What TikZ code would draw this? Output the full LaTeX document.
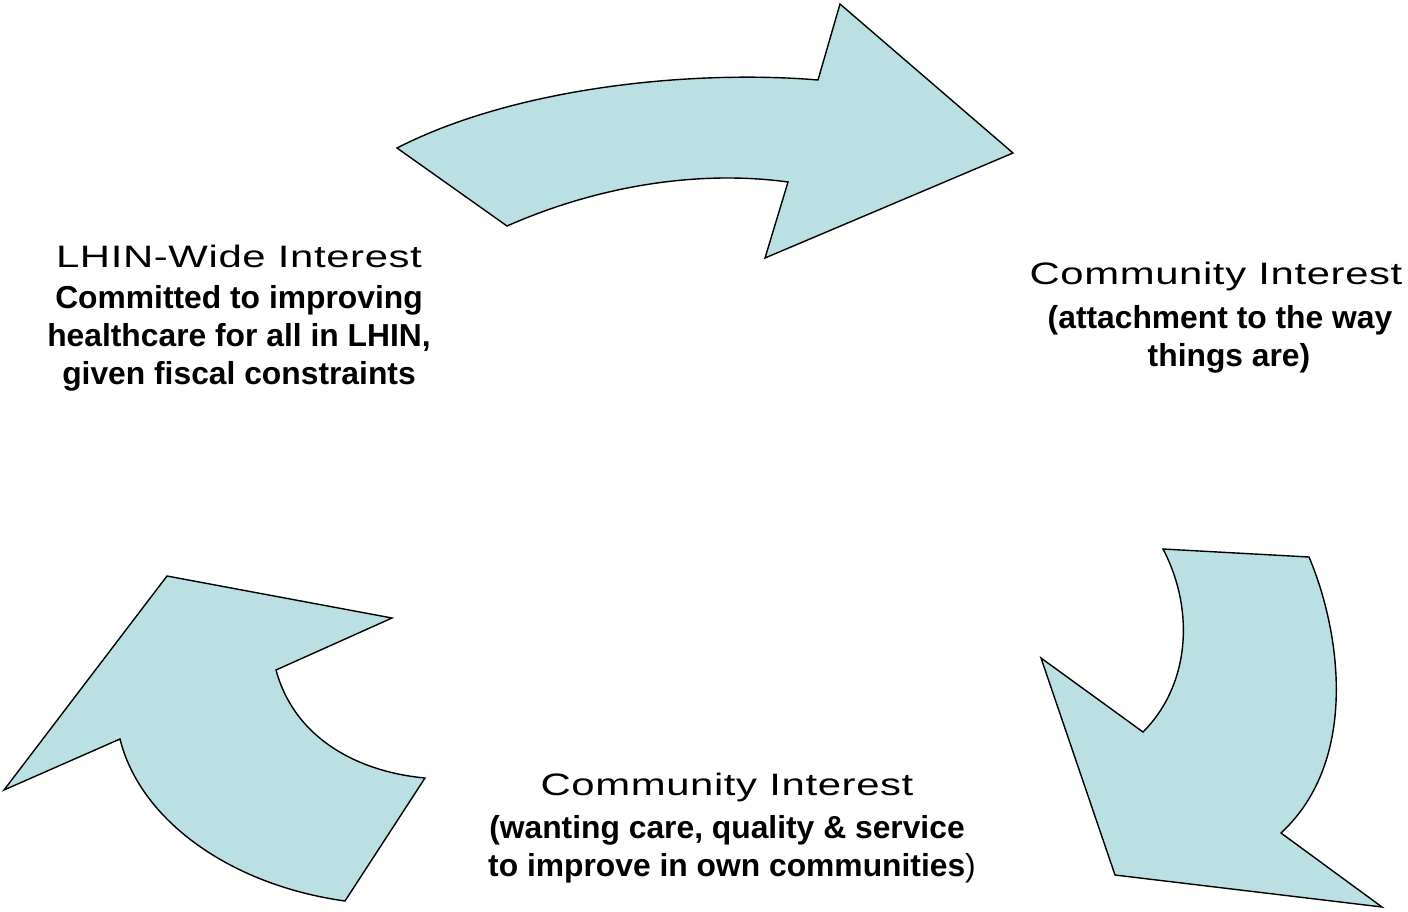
\documentclass[tikz,border=0pt]{standalone}
\usepackage{fontspec}
\setmainfont{Liberation Sans}
\newfontfamily\headfont[FakeStretch=1.35,LetterSpace=2]{Liberation Sans}
\definecolor{arrowfill}{HTML}{BBE0E3}
\begin{document}
\begin{tikzpicture}[x=1pt,y=-1pt,
  bigarrow/.style={fill=arrowfill, draw=black, line width=1.4pt, line join=miter},
  headline/.style={font=\headfont\fontsize{31}{37}\selectfont, anchor=base, inner sep=0pt},
  subline/.style={font=\bfseries\fontsize{31.8}{38}\selectfont, anchor=base, inner sep=0pt}]
\useasboundingbox (0,0) rectangle (1408,911);

% upper arrow, pointing right
\draw[bigarrow] (397,148) -- (507,226)
  .. controls (600,185) and (700,170) .. (788,182)
  -- (765,258) -- (1013,153) -- (840,4) -- (818,80)
  .. controls (700,70) and (520,85) .. (397,148) -- cycle;

% right arrow, pointing down-right
\draw[bigarrow] (1163,549) -- (1309,557)
  .. controls (1340,630) and (1360,760) .. (1281,833)
  -- (1382,907) -- (1115,875) -- (1041,658) -- (1143,732)
  .. controls (1190,685) and (1195,610) .. (1163,549) -- cycle;

% left arrow, pointing up-left
\draw[bigarrow] (167,576) -- (392,618) -- (276,670)
  .. controls (295,740) and (360,772) .. (425,778)
  -- (345,901)
  .. controls (230,885) and (140,820) .. (120,739)
  -- (4,790) -- (167,576) -- cycle;

% LHIN-wide block
\node[headline] (lhinhead) at (239,267) {LHIN-Wide Interest};
\node[subline] (lhinA) at (239,308) {Committed to improving};
\node[subline] (lhinB) at (239,346) {healthcare for all in LHIN,};
\node[subline] (lhinC) at (239,384) {given fiscal constraints};

% community block, right
\node[headline] (righthead) at (1216,284) {Community Interest};
\node[subline] (rightA) at (1220,328) {(attachment to the way};
\node[subline] (rightB) at (1229,366) {things are)};

% community block, bottom
\node[headline] (bottomhead) at (727,795) {Community Interest};
\node[subline] (bottomA) at (727,838) {(wanting care, quality \& service};
\node[subline] (bottomB) at (732,876) {to improve in own communities{\mdseries)}};
\end{tikzpicture}
\end{document}
